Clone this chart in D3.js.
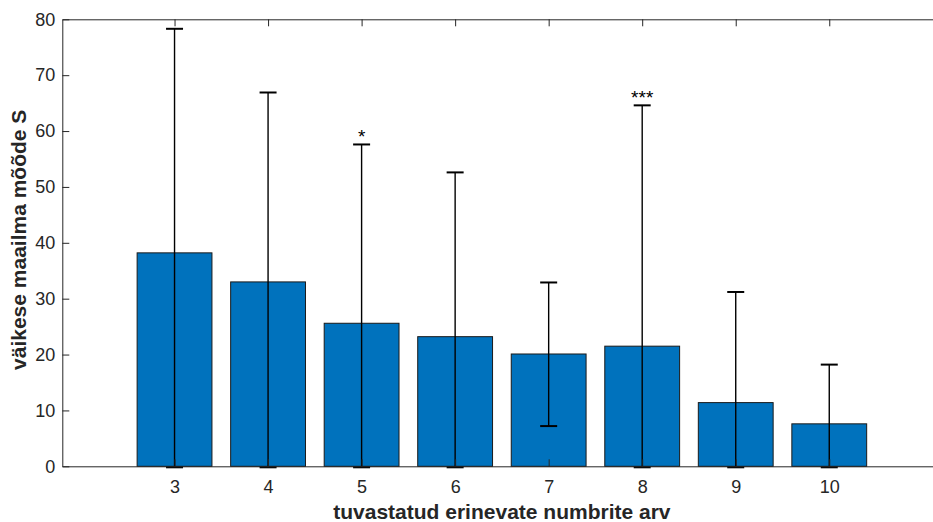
<!DOCTYPE html>
<html>
<head>
<meta charset="utf-8">
<script src="https://cdn.jsdelivr.net/npm/d3@7"></script>
<style>
  html, body { margin: 0; padding: 0; background: #fff; }
  svg { display: block; font-family: "Liberation Sans", Arial, Helvetica, sans-serif; }
</style>
</head>
<body>
<svg id="chart" width="933" height="522"></svg>
<script>
// Number of distinct detected numbers
const categories = [3, 4, 5, 6, 7, 8, 9, 10];
// Mean small-world measure S per category
const means = [38.2, 33.0, 25.6, 23.2, 20.1, 21.5, 11.4, 7.6];
// Upper and lower ends of the error bars
const upper = [78.3, 66.9, 57.6, 52.6, 32.9, 64.6, 31.2, 18.2];
const lower = [0, 0, 0, 0, 7.2, 0, 0, 0];
// Significance markers
const marks = ["", "", "*", "", "", "***", "", ""];
const yTicks = [0, 10, 20, 30, 40, 50, 60, 70, 80];

const svg = d3.select("#chart");
const mLeft = 62.3, mTop = 19.3, mBottom = 466.3, mRight = 941.5;
const axisColor = "#262626";

const x = d3.scaleLinear().domain([1.8, 11.2]).range([mLeft, mRight]);
const y = d3.scaleLinear().domain([0, 80]).range([mBottom, mTop]);
const barW = x(0.8) - x(0);

const plot = svg.append("g");

// Bars
plot.selectAll("rect.bar")
  .data(categories)
  .join("rect")
  .attr("class", "bar")
  .attr("x", (d) => x(d) - barW / 2)
  .attr("width", barW)
  .attr("y", (d, i) => y(means[i]))
  .attr("height", (d, i) => y(0) - y(means[i]))
  .attr("fill", "#0072BD")
  .attr("stroke", "#1a1a1a")
  .attr("stroke-width", 1);

// Error bars
const capW = 17;
const eb = plot.selectAll("g.err").data(categories).join("g").attr("class", "err");
eb.append("line")
  .attr("x1", (d) => x(d)).attr("x2", (d) => x(d))
  .attr("y1", (d, i) => y(lower[i])).attr("y2", (d, i) => y(upper[i]))
  .attr("stroke", "#000").attr("stroke-width", 1.4);
eb.append("line")
  .attr("x1", (d) => x(d) - capW / 2).attr("x2", (d) => x(d) + capW / 2)
  .attr("y1", (d, i) => y(upper[i])).attr("y2", (d, i) => y(upper[i]))
  .attr("stroke", "#000").attr("stroke-width", 2);
eb.append("line")
  .attr("x1", (d) => x(d) - capW / 2).attr("x2", (d) => x(d) + capW / 2)
  .attr("y1", (d, i) => y(lower[i]) + (lower[i] === 0 ? 1 : 0))
  .attr("y2", (d, i) => y(lower[i]) + (lower[i] === 0 ? 1 : 0))
  .attr("stroke", "#000").attr("stroke-width", 2);

// Significance stars
plot.selectAll("text.sig")
  .data(categories)
  .join("text")
  .attr("class", "sig")
  .attr("x", (d) => x(d))
  .attr("y", (d, i) => y(upper[i]) - 1)
  .attr("text-anchor", "middle")
  .attr("font-size", 19)
  .attr("fill", "#000")
  .text((d, i) => marks[i]);

// Axes box with inward ticks
const tickLen = 7;
const axL = d3.axisLeft(y).tickValues(yTicks).tickSizeInner(-tickLen).tickSizeOuter(0).tickPadding(7);
const axR = d3.axisRight(y).tickValues(yTicks).tickSizeInner(-tickLen).tickSizeOuter(0).tickFormat("");
const axB = d3.axisBottom(x).tickValues(categories).tickSizeInner(-tickLen).tickSizeOuter(0).tickPadding(14);
const axT = d3.axisTop(x).tickValues(categories).tickSizeInner(-tickLen).tickSizeOuter(0).tickFormat("");

function style(g) {
  g.selectAll("path, line").attr("stroke", axisColor).attr("stroke-width", 1);
  g.selectAll("text").attr("fill", axisColor).attr("font-size", 18)
    .attr("font-family", "'Liberation Sans', Arial, Helvetica, sans-serif");
}

svg.append("g").attr("transform", `translate(${mLeft},0)`).call(axL).call(style);
svg.append("g").attr("transform", `translate(${mRight},0)`).call(axR).call(style);
svg.append("g").attr("transform", `translate(0,${mBottom})`).call(axB).call(style);
svg.append("g").attr("transform", `translate(0,${mTop})`).call(axT).call(style);

// Axis titles
svg.append("text")
  .attr("x", (mLeft + mRight) / 2)
  .attr("y", 519)
  .attr("text-anchor", "middle")
  .attr("font-size", 21)
  .attr("font-weight", "bold")
  .attr("fill", axisColor)
  .text("tuvastatud erinevate numbrite arv");

svg.append("text")
  .attr("transform", `translate(26,${(mTop + mBottom) / 2 - 3}) rotate(-90)`)
  .attr("text-anchor", "middle")
  .attr("font-size", 21)
  .attr("font-weight", "bold")
  .attr("fill", axisColor)
  .text("väikese maailma mõõde S");
</script>
</body>
</html>
